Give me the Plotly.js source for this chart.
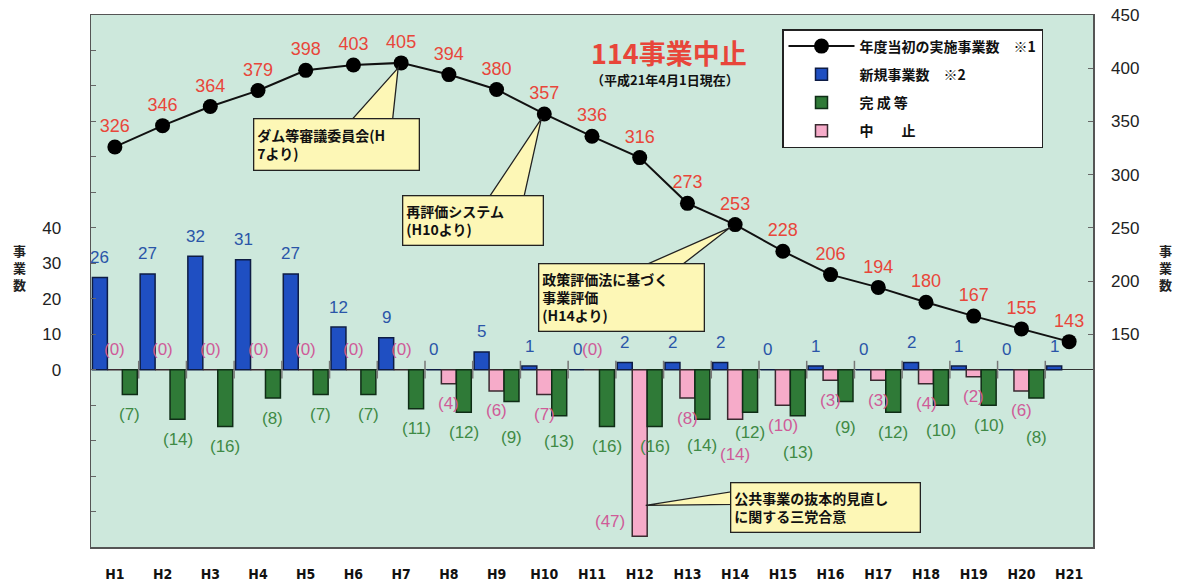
<!DOCTYPE html>
<html>
<head>
<meta charset="utf-8">
<script src="https://cdn.plot.ly/plotly-3.0.1.min.js"></script>
<style>
  html, body { margin: 0; padding: 0; background: #ffffff; }
  #chart { width: 1184px; height: 584px; }
</style>
</head>
<body>
<div id="chart"></div>
<script>
// ---- data ----
const years = ['H1','H2','H3','H4','H5','H6','H7','H8','H9','H10','H11','H12','H13','H14','H15','H16','H17','H18','H19','H20','H21'];
const ongoing = [326,346,364,379,398,403,405,394,380,357,336,316,273,253,228,206,194,180,167,155,143];
const newProjects = [26,27,32,31,27,12,9,0,5,1,0,2,2,2,0,1,0,2,1,0,1];
const cancelled = [0,0,0,0,0,0,0,4,6,7,0,47,8,14,10,3,3,4,2,6,null];
const completed = [7,14,16,8,7,7,11,12,9,13,16,16,14,12,13,9,12,10,10,8,null];

const leftTicks = [0,10,20,30,40];
const rightTicks = [150,200,250,300,350,400,450];

// ---- styling constants ----
const FONT = 'Liberation Sans, Arial, Noto Sans CJK JP, sans-serif';
const CJK = 'Noto Sans CJK JP, Liberation Sans, sans-serif';
const RED = '#e8463a';
const BLUE_TXT = '#2a55a8';
const PINK_TXT = '#cf5b98';
const GREEN_TXT = '#3f8a45';
const M = {l: 91, r: 91, t: 15, b: 37};
const plotW = 1184 - M.l - M.r;
const plotH = 584 - M.t - M.b;
const yRange = [-50, 100];
const k = plotH / (yRange[1] - yRange[0]);     // px per left-axis unit
const slot = plotW / years.length * (1 - 0.06) / 3; // bar slot width

const neg = a => a.map(v => v == null ? null : -v);

const traces = [
  {type: 'bar', name: '新規事業数　※2', x: years, y: newProjects, yaxis: 'y',
   marker: {color: '#1f4fc2', line: {color: '#0e1c44', width: 1.5}},
   legendrank: 2, legendgroup: 'b', hoverinfo: 'x+y'},
  {type: 'bar', name: '中　　止', x: years, y: neg(cancelled), yaxis: 'y',
   marker: {color: '#f6abc9', line: {color: '#3a2a30', width: 1.5}},
   legendrank: 4, legendgroup: 'p', hoverinfo: 'x+y'},
  {type: 'bar', name: '完 成 等', x: years, y: neg(completed), yaxis: 'y',
   marker: {color: '#2f7a37', line: {color: '#0f2c16', width: 1.5}},
   legendrank: 3, legendgroup: 'g', hoverinfo: 'x+y'},
  {type: 'scatter', mode: 'lines+markers+text', name: '年度当初の実施事業数　※1',
   x: years, y: ongoing, yaxis: 'y2', text: ongoing.map(String),
   textposition: 'top center', cliponaxis: false,
   textfont: {color: RED, size: 18, family: FONT},
   line: {color: '#111111', width: 2}, marker: {color: '#000000', size: 15},
   legendrank: 1, legendgroup: 'l'}
];

// ---- value labels for the bars ----
const annotations = [];
const lbl = (x, y, text, color, xshift, yshift) => annotations.push({
  x: x, y: y, xref: 'x', yref: 'y', text: text, showarrow: false,
  xanchor: 'center', yanchor: 'middle', xshift: xshift, yshift: yshift,
  font: {color: color, size: 17, family: FONT}
});

years.forEach((yr, i) => {
  const n = newProjects[i], p = cancelled[i], g = completed[i];
  lbl(yr, n, String(n), BLUE_TXT, -slot, 20);
  if (p == null) return;
  const natP = p * k + 20, natG = g * k + 20;
  let cP = natP, cG = natG;
  if (p === 0) {
    lbl(yr, 0, '(' + p + ')', PINK_TXT, 0, 20);
  } else if (p > 30) {
    lbl(yr, -p, '(' + p + ')', PINK_TXT, -30, 15);
  } else {
    if (p <= g) cG = Math.max(natG, natP + 27);
    else cP = Math.max(natP, natG + 22);
    lbl(yr, -p, '(' + p + ')', PINK_TXT, 0, -(cP - p * k));
  }
  lbl(yr, -g, '(' + g + ')', GREEN_TXT, slot, -(cG - g * k));
});

// ---- headline ----
const px = x => (x - M.l) / plotW;
const py = y => (584 - M.b - y) / plotH;
annotations.push({xref: 'paper', yref: 'paper', x: px(669), y: py(53), xanchor: 'center', yanchor: 'middle',
  text: '<b>114事業中止</b>', showarrow: false, font: {color: RED, size: 27, family: CJK}});
annotations.push({xref: 'paper', yref: 'paper', x: px(665), y: py(80), xanchor: 'center', yanchor: 'middle',
  text: '<b>（平成21年4月1日現在）</b>', showarrow: false, font: {color: '#111', size: 13, family: CJK}});

// ---- axis titles (upright stacked) ----
annotations.push({xref: 'paper', yref: 'paper', x: px(19), y: py(267), xanchor: 'center', yanchor: 'middle',
  text: '<b>事<br>業<br>数</b>', showarrow: false, font: {size: 13, color: '#222', family: CJK}});
annotations.push({xref: 'paper', yref: 'paper', x: px(1165), y: py(267), xanchor: 'center', yanchor: 'middle',
  text: '<b>事<br>業<br>数</b>', showarrow: false, font: {size: 13, color: '#222', family: CJK}});

// ---- callouts ----
const BOX = '#fdf7b6';
const shapes = [];
function callout(xa, ya, yref, text, ax, ay, w, h, wedge) {
  shapes.push({type: 'path', layer: 'above', xref: 'x', yref: yref,
    xsizemode: 'pixel', ysizemode: 'pixel', xanchor: xa, yanchor: ya,
    path: wedge, fillcolor: BOX, line: {color: '#222', width: 1.3}});
  annotations.push({x: xa, y: ya, xref: 'x', yref: yref, text: text, showarrow: true,
    arrowcolor: 'rgba(0,0,0,0)', ax: ax, ay: ay, width: w, height: h, align: 'left',
    bgcolor: BOX, bordercolor: '#222', borderwidth: 1.3, borderpad: 3,
    font: {size: 14, color: '#111', family: CJK}});
}
callout('H7', ongoing[6], 'y2', '<b>ダム等審議委員会(H<br>7より)</b>', -65, 82, 158, 44, 'M-3,-5 L-53,-61 L-9,-61 Z');
callout('H10', ongoing[9], 'y2', '<b>再評価システム<br>(H10より)</b>', -71, 107, 133, 42, 'M-3,-5 L-57,-86 L-21,-86 Z');
callout('H14', ongoing[13], 'y2', '<b>政策評価法に基づく<br>事業評価<br>(H14より)</b>', -114, 73, 158, 60, 'M-5,-3 L-98,-44 L-58,-44 Z');
callout('H12', -38, 'y', '<b>公共事業の抜本的見直し<br>に関する三党合意</b>', 186, 3, 182, 42, 'M6,-1 L94,13 L94,0 Z');

// ---- small boundary ticks on the zero line ----
years.forEach((yr, i) => {
  if (i === 0) return;
  shapes.push({type: 'line', xref: 'x', yref: 'y', x0: i - 0.5, x1: i - 0.5, y0: -2.5, y1: 2.5,
    line: {color: '#777', width: 1.5}, layer: 'above'});
});

const layout = {
  width: 1184, height: 584, margin: M,
  paper_bgcolor: '#ffffff', plot_bgcolor: '#cde8dc',
  font: {family: FONT, color: '#222'},
  barmode: 'group', bargap: 0.06, bargroupgap: 0,
  showlegend: true,
  legend: {x: px(782), y: py(29), xanchor: 'left', yanchor: 'top',
    bgcolor: '#ffffff', bordercolor: '#222', borderwidth: 1.5,
    font: {size: 14, family: CJK, color: '#111', weight: 'bold'},
    itemwidth: 66, tracegroupgap: 7, traceorder: 'grouped'},
  xaxis: {type: 'category', range: [-0.5, years.length - 0.5], showline: true, mirror: true,
    linecolor: '#555', linewidth: 1.5, ticks: '', showgrid: false, zeroline: false,
    tickfont: {size: 14, weight: 'bold', color: '#111', family: 'Liberation Sans Narrow, DejaVu Sans Condensed, Liberation Sans, sans-serif'},
    ticklabelstandoff: 14},
  yaxis: {range: yRange, tickmode: 'array', tickvals: leftTicks, ticks: 'inside', ticklen: 5,
    tickcolor: '#666', minor: {tick0: -50, dtick: 10, ticks: 'inside', ticklen: 5, tickcolor: '#666'},
    showgrid: false, zeroline: true, zerolinecolor: '#333', zerolinewidth: 1.5,
    showline: true, mirror: true, linecolor: '#555', linewidth: 1.5,
    tickfont: {size: 17, color: '#222'}, ticklabelstandoff: 25, fixedrange: true},
  yaxis2: {overlaying: 'y', side: 'right', range: [-50, 450], tickmode: 'array', tickvals: rightTicks,
    ticks: 'inside', ticklen: 5, tickcolor: '#666', showgrid: false, zeroline: false, showline: false,
    tickfont: {size: 17, color: '#222'}, ticklabelstandoff: 17, fixedrange: true},
  annotations: annotations,
  shapes: shapes
};

Plotly.newPlot('chart', traces, layout, {displayModeBar: false, staticPlot: true});
</script>
</body>
</html>
